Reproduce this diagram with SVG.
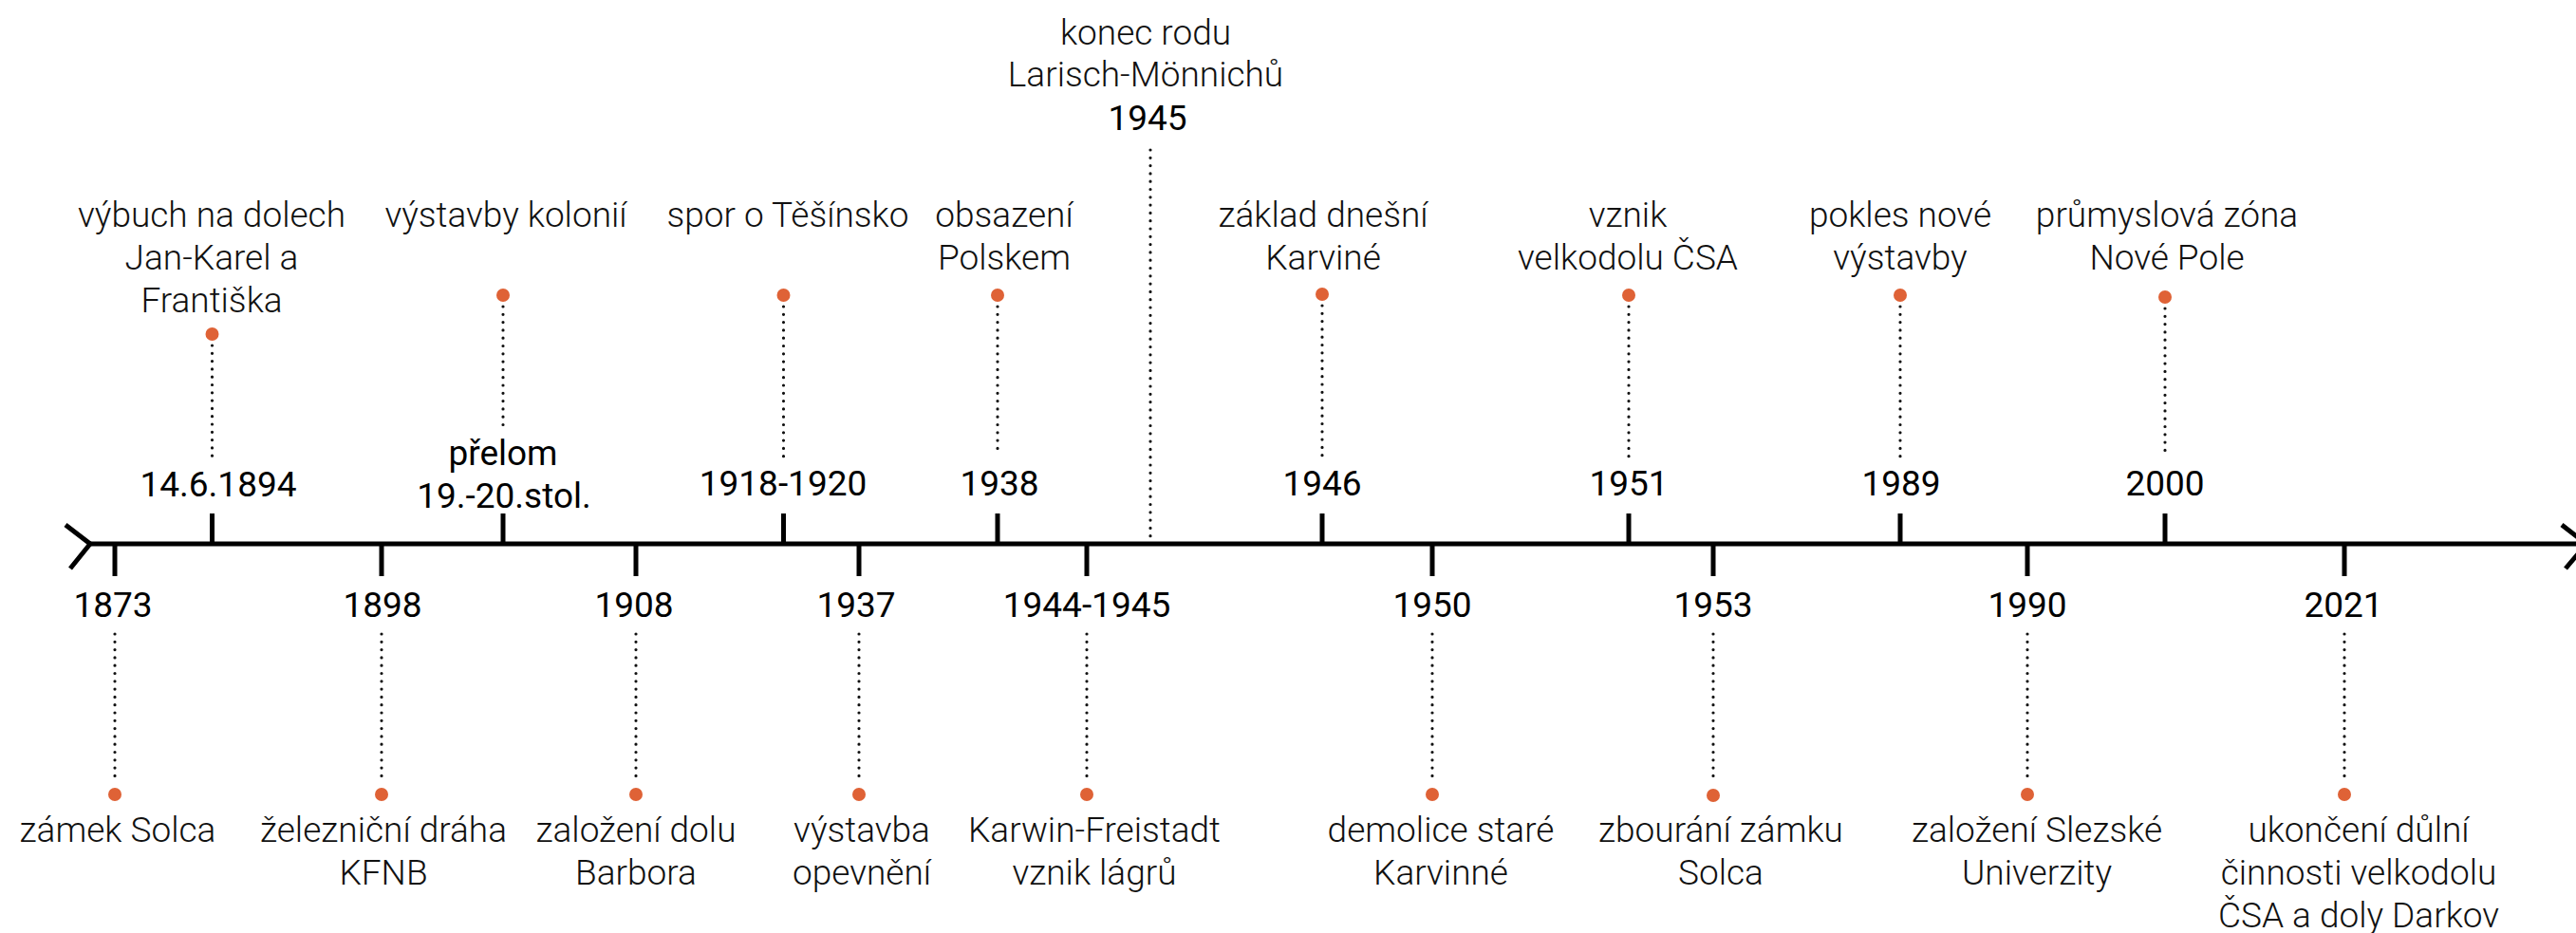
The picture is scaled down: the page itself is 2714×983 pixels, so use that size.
<svg xmlns="http://www.w3.org/2000/svg" width="2714" height="983" viewBox="0 0 2714 983">
<style>
.axis{stroke:#000;stroke-width:5;fill:none}
.tick{stroke:#000;stroke-width:5}
.lead{stroke:#111;stroke-width:3.2;stroke-linecap:round;stroke-dasharray:0 8.3;fill:none}
.pin{fill:#DF6236}
.date{font-family:Roboto,"Liberation Sans",sans-serif;font-size:37px;font-weight:400;fill:#000;text-anchor:middle}
.desc{font-family:Roboto,"Liberation Sans",sans-serif;font-size:37px;font-weight:300;fill:#111;text-anchor:middle}
</style>
<rect width="2714" height="983" fill="#fff"/>
<g id="axis">
<line class="axis" x1="94" y1="573" x2="2714" y2="573"/>
<polyline class="axis" points="69,553 95,573 74,599"/>
<polyline class="axis" points="2699,553 2725,573 2703,599"/>
</g>
<g id="connectors">
<line class="lead" x1="223.5" y1="364" x2="223.5" y2="482"/>
<line class="lead" x1="530" y1="323" x2="530" y2="453"/>
<line class="lead" x1="825.5" y1="323" x2="825.5" y2="484"/>
<line class="lead" x1="1051" y1="323" x2="1051" y2="480"/>
<line class="lead" x1="1212" y1="158" x2="1212" y2="571"/>
<line class="lead" x1="1393" y1="322" x2="1393" y2="480"/>
<line class="lead" x1="1716" y1="323" x2="1716" y2="481"/>
<line class="lead" x1="2002" y1="323" x2="2002" y2="481"/>
<line class="lead" x1="2281" y1="325" x2="2281" y2="480"/>
<line class="lead" x1="121" y1="668" x2="121" y2="825"/>
<line class="lead" x1="402" y1="668" x2="402" y2="825"/>
<line class="lead" x1="670" y1="668" x2="670" y2="825"/>
<line class="lead" x1="905" y1="668" x2="905" y2="825"/>
<line class="lead" x1="1145" y1="668" x2="1145" y2="825"/>
<line class="lead" x1="1509" y1="668" x2="1509" y2="825"/>
<line class="lead" x1="1805" y1="668" x2="1805" y2="825"/>
<line class="lead" x1="2136" y1="668" x2="2136" y2="825"/>
<line class="lead" x1="2470" y1="668" x2="2470" y2="825"/>
</g>
<g id="e1894">
<line class="tick" x1="223.5" y1="541" x2="223.5" y2="573"/>
<circle class="pin" cx="223.5" cy="352" r="7"/>
<text class="desc" x="223"><tspan x="223" y="239">výbuch na dolech</tspan><tspan x="223" y="284">Jan-Karel a</tspan><tspan x="223" y="329">Františka</tspan></text>
<text class="date" x="230" y="523">14.6.1894</text>
</g>
<g id="e1900">
<line class="tick" x1="530" y1="541" x2="530" y2="573"/>
<circle class="pin" cx="530" cy="311" r="7"/>
<text class="desc" x="533" y="239">výstavby kolonií</text>
<text class="date"><tspan x="530" y="490">přelom</tspan><tspan x="531" y="535">19.-20.stol.</tspan></text>
</g>
<g id="e1918">
<line class="tick" x1="825.5" y1="541" x2="825.5" y2="573"/>
<circle class="pin" cx="825.5" cy="311" r="7"/>
<text class="desc" x="830" y="239">spor o Těšínsko</text>
<text class="date" x="825" y="522">1918-1920</text>
</g>
<g id="e1938">
<line class="tick" x1="1051" y1="541" x2="1051" y2="573"/>
<circle class="pin" cx="1051" cy="311" r="7"/>
<text class="desc"><tspan x="1058" y="239">obsazení</tspan><tspan x="1058" y="284">Polskem</tspan></text>
<text class="date" x="1053" y="522">1938</text>
</g>
<g id="e1945">
<text class="desc"><tspan x="1207" y="47">konec rodu</tspan><tspan x="1207" y="91">Larisch-Mönnichů</tspan></text>
<text class="date" x="1209" y="137">1945</text>
</g>
<g id="e1946">
<line class="tick" x1="1393" y1="541" x2="1393" y2="573"/>
<circle class="pin" cx="1393" cy="310" r="7"/>
<text class="desc"><tspan x="1394" y="239">základ dnešní</tspan><tspan x="1394" y="284">Karviné</tspan></text>
<text class="date" x="1393" y="522">1946</text>
</g>
<g id="e1951">
<line class="tick" x1="1716" y1="541" x2="1716" y2="573"/>
<circle class="pin" cx="1716" cy="311" r="7"/>
<text class="desc"><tspan x="1715" y="239">vznik</tspan><tspan x="1715" y="284">velkodolu ČSA</tspan></text>
<text class="date" x="1716" y="522">1951</text>
</g>
<g id="e1989">
<line class="tick" x1="2002" y1="541" x2="2002" y2="573"/>
<circle class="pin" cx="2002" cy="311" r="7"/>
<text class="desc"><tspan x="2002" y="239">pokles nové</tspan><tspan x="2002" y="284">výstavby</tspan></text>
<text class="date" x="2003" y="522">1989</text>
</g>
<g id="e2000">
<line class="tick" x1="2281" y1="541" x2="2281" y2="573"/>
<circle class="pin" cx="2281" cy="313" r="7"/>
<text class="desc"><tspan x="2283" y="239">průmyslová zóna</tspan><tspan x="2283" y="284">Nové Pole</tspan></text>
<text class="date" x="2281" y="522">2000</text>
</g>
<g id="e1873">
<line class="tick" x1="121" y1="573" x2="121" y2="607"/>
<text class="date" x="119" y="650">1873</text>
<circle class="pin" cx="121" cy="837" r="7"/>
<text class="desc" x="124" y="887">zámek Solca</text>
</g>
<g id="e1898">
<line class="tick" x1="402" y1="573" x2="402" y2="607"/>
<text class="date" x="403" y="650">1898</text>
<circle class="pin" cx="402" cy="837" r="7"/>
<text class="desc"><tspan x="404" y="887">železniční dráha</tspan><tspan x="404" y="932">KFNB</tspan></text>
</g>
<g id="e1908">
<line class="tick" x1="670" y1="573" x2="670" y2="607"/>
<text class="date" x="668" y="650">1908</text>
<circle class="pin" cx="670" cy="837" r="7"/>
<text class="desc"><tspan x="670" y="887">založení dolu</tspan><tspan x="670" y="932">Barbora</tspan></text>
</g>
<g id="e1937">
<line class="tick" x1="905" y1="573" x2="905" y2="607"/>
<text class="date" x="902" y="650">1937</text>
<circle class="pin" cx="905" cy="837" r="7"/>
<text class="desc"><tspan x="908" y="887">výstavba</tspan><tspan x="908" y="932">opevnění</tspan></text>
</g>
<g id="e1944">
<line class="tick" x1="1145" y1="573" x2="1145" y2="607"/>
<text class="date" x="1145" y="650">1944-1945</text>
<circle class="pin" cx="1145" cy="837" r="7"/>
<text class="desc"><tspan x="1153" y="887">Karwin-Freistadt</tspan><tspan x="1153" y="932">vznik lágrů</tspan></text>
</g>
<g id="e1950">
<line class="tick" x1="1509" y1="573" x2="1509" y2="607"/>
<text class="date" x="1509" y="650">1950</text>
<circle class="pin" cx="1509" cy="837" r="7"/>
<text class="desc"><tspan x="1518" y="887">demolice staré</tspan><tspan x="1518" y="932">Karvinné</tspan></text>
</g>
<g id="e1953">
<line class="tick" x1="1805" y1="573" x2="1805" y2="607"/>
<text class="date" x="1805" y="650">1953</text>
<circle class="pin" cx="1805" cy="838" r="7"/>
<text class="desc"><tspan x="1813" y="887">zbourání zámku</tspan><tspan x="1813" y="932">Solca</tspan></text>
</g>
<g id="e1990">
<line class="tick" x1="2136" y1="573" x2="2136" y2="607"/>
<text class="date" x="2136" y="650">1990</text>
<circle class="pin" cx="2136" cy="837" r="7"/>
<text class="desc"><tspan x="2146" y="887">založení Slezské</tspan><tspan x="2146" y="932">Univerzity</tspan></text>
</g>
<g id="e2021">
<line class="tick" x1="2470" y1="573" x2="2470" y2="607"/>
<text class="date" x="2469" y="650">2021</text>
<circle class="pin" cx="2470" cy="837" r="7"/>
<text class="desc"><tspan x="2485" y="887">ukončení důlní</tspan><tspan x="2485" y="932">činnosti velkodolu</tspan><tspan x="2485" y="977">ČSA a doly Darkov</tspan></text>
</g>
</svg>
